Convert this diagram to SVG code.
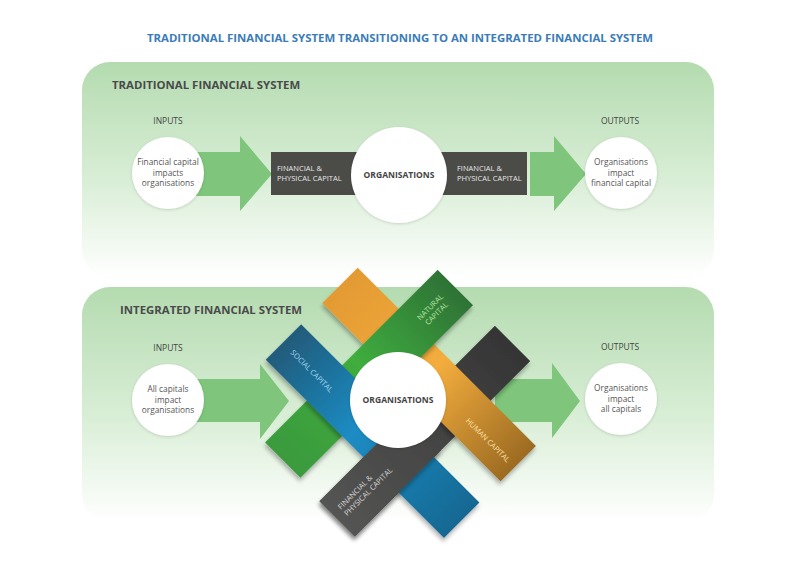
<svg xmlns="http://www.w3.org/2000/svg" width="800" height="566" viewBox="0 0 800 566">
<defs>
<linearGradient id="panel" x1="0" y1="0" x2="0" y2="1">
<stop offset="0" stop-color="#b4dbb0"/>
<stop offset="0.55" stop-color="#d9eed6"/>
<stop offset="1" stop-color="#ffffff"/>
</linearGradient>
<linearGradient id="gOrange" x1="0" y1="0" x2="1" y2="0">
<stop offset="0" stop-color="#e39a33"/>
<stop offset="0.5" stop-color="#f3ad3d"/>
<stop offset="1" stop-color="#9c6b22"/>
</linearGradient>
<linearGradient id="gBlue" x1="0" y1="0" x2="1" y2="0">
<stop offset="0" stop-color="#215b7a"/>
<stop offset="0.45" stop-color="#1b8cc3"/>
<stop offset="1" stop-color="#146892"/>
</linearGradient>
<linearGradient id="gGreen" x1="0" y1="0" x2="0" y2="1">
<stop offset="0" stop-color="#2e7236"/>
<stop offset="0.5" stop-color="#3fad3e"/>
<stop offset="1" stop-color="#3a9a3e"/>
</linearGradient>
<linearGradient id="gGray" gradientUnits="userSpaceOnUse" x1="0" y1="-121" x2="0" y2="127">
<stop offset="0" stop-color="#353535"/>
<stop offset="1" stop-color="#545453"/>
</linearGradient>
<filter id="sh" x="-20%" y="-20%" width="140%" height="140%">
<feDropShadow dx="2" dy="3" stdDeviation="2" flood-color="#000" flood-opacity="0.3"/>
</filter>
<filter id="csh" x="-20%" y="-20%" width="140%" height="140%">
<feDropShadow dx="0" dy="1" stdDeviation="1.5" flood-color="#000" flood-opacity="0.15"/>
</filter>
</defs>
<style>
.t{font-family:"Open Sans","Liberation Sans",sans-serif}
.title{font-size:11.4px;font-weight:bold;fill:#3b7cb8}
.plabel{font-size:11.4px;font-weight:bold;fill:#4a4a4a}
.io{font-size:8.5px;fill:#444;text-anchor:middle}
.ct{font-size:8.3px;fill:#555;text-anchor:middle}
.org{font-size:8.5px;font-weight:bold;fill:#444;text-anchor:middle}
.bt{font-size:7.5px;fill:#e6e6e6}
.arrow{fill:#7fc57c}
.circ{fill:#fff;filter:url(#csh)}
</style>
<rect width="800" height="566" fill="#fff"/>
<text class="t title" x="400" y="42" text-anchor="middle">TRADITIONAL FINANCIAL SYSTEM TRANSITIONING TO AN INTEGRATED FINANCIAL SYSTEM</text>

<g id="panel-traditional">
<rect x="82" y="62" width="632" height="215" rx="28" fill="url(#panel)"/>
<text class="t plabel" x="112" y="89">TRADITIONAL FINANCIAL SYSTEM</text>
</g>
<g id="panel-integrated">
<rect x="82" y="287" width="632" height="235" rx="28" fill="url(#panel)"/>
<text class="t plabel" x="120" y="314">INTEGRATED FINANCIAL SYSTEM</text>
</g>

<g id="connectors">
<polygon class="arrow" points="195,152 240,152 240,136 272,174 240,211 240,196 195,196"/>
<polygon class="arrow" points="530,152 554,152 554,136 586,174 554,211 554,196 530,196"/>
<polygon class="arrow" points="195,379 260,379 260,364 289,401 260,439 260,422 195,422"/>
<polygon class="arrow" points="495,379 552,379 552,363 580,401 552,438 552,422 495,422"/>
</g>

<g id="traditional-input">
<text class="t io" x="168" y="124">INPUTS</text>
<circle class="circ" cx="168" cy="173" r="36"/>
<text class="t ct" x="168" y="165">Financial capital</text>
<text class="t ct" x="168" y="175.5">impacts</text>
<text class="t ct" x="168" y="186">organisations</text>
</g>
<g id="traditional-capital-in">
<rect x="271" y="152" width="90" height="43" fill="#4b4b48"/>
<text class="t bt" x="277" y="171">FINANCIAL &amp;</text>
<text class="t bt" x="277" y="181">PHYSICAL CAPITAL</text>
</g>
<g id="traditional-capital-out">
<rect x="437" y="152" width="90" height="43" fill="#4b4b48"/>
<text class="t bt" x="457" y="171">FINANCIAL &amp;</text>
<text class="t bt" x="457" y="181">PHYSICAL CAPITAL</text>
</g>
<g id="traditional-organisations">
<circle class="circ" cx="399" cy="175" r="48"/>
<text class="t org" x="399" y="178">ORGANISATIONS</text>
</g>
<g id="traditional-output">
<text class="t io" x="620" y="124">OUTPUTS</text>
<circle class="circ" cx="621" cy="173" r="36"/>
<text class="t ct" x="621" y="165">Organisations</text>
<text class="t ct" x="621" y="175.5">impact</text>
<text class="t ct" x="621" y="186">financial capital</text>
</g>

<g id="integrated-input">
<text class="t io" x="168" y="351">INPUTS</text>
<circle class="circ" cx="168" cy="400" r="36"/>
<text class="t ct" x="168" y="392">All capitals</text>
<text class="t ct" x="168" y="402.5">impact</text>
<text class="t ct" x="168" y="413">organisations</text>
</g>
<g id="integrated-output">
<text class="t io" x="620" y="350">OUTPUTS</text>
<circle class="circ" cx="621" cy="399" r="36"/>
<text class="t ct" x="621" y="391">Organisations</text>
<text class="t ct" x="621" y="401.5">impact</text>
<text class="t ct" x="621" y="412">all capitals</text>
</g>

<g id="capital-bars" transform="translate(398,400) rotate(45)">
<g id="bar-financial">
<rect x="16" y="-121" width="50" height="248" fill="url(#gGray)" filter="url(#sh)"/>
</g>
<g id="bar-human">
<rect x="-122" y="-65" width="252" height="50" fill="url(#gOrange)" filter="url(#sh)"/>
</g>
<g id="bar-natural">
<rect x="-64" y="-120" width="50" height="244" fill="url(#gGreen)" filter="url(#sh)"/>
</g>
<g id="bar-social">
<rect x="-122" y="15" width="252" height="50" fill="url(#gBlue)" filter="url(#sh)"/>
</g>
<g id="bar-financial-over">
<rect x="16" y="5" width="50" height="122" fill="url(#gGray)" filter="url(#sh)"/>
</g>
</g>
<g id="bar-labels">
<text class="t bt" style="fill:#b9e3a6" text-anchor="middle" transform="translate(432,309) rotate(-45)"><tspan x="0" y="0">NATURAL</tspan><tspan x="0" y="9">CAPITAL</tspan></text>
<text class="t bt" style="fill:#a6d8f2" text-anchor="middle" transform="translate(310,373) rotate(45)">SOCIAL CAPITAL</text>
<text class="t bt" style="fill:#fbe0a8" text-anchor="middle" transform="translate(486,442) rotate(45)">HUMAN CAPITAL</text>
<text class="t bt" style="fill:#d6d6d6" transform="translate(341,510) rotate(-45)"><tspan x="0" y="0">FINANCIAL &amp;</tspan><tspan x="0" y="9">PHYSICAL CAPITAL</tspan></text>
</g>
<g id="integrated-organisations">
<circle class="circ" cx="398" cy="400" r="48"/>
<text class="t org" x="398" y="403">ORGANISATIONS</text>
</g>
</svg>
